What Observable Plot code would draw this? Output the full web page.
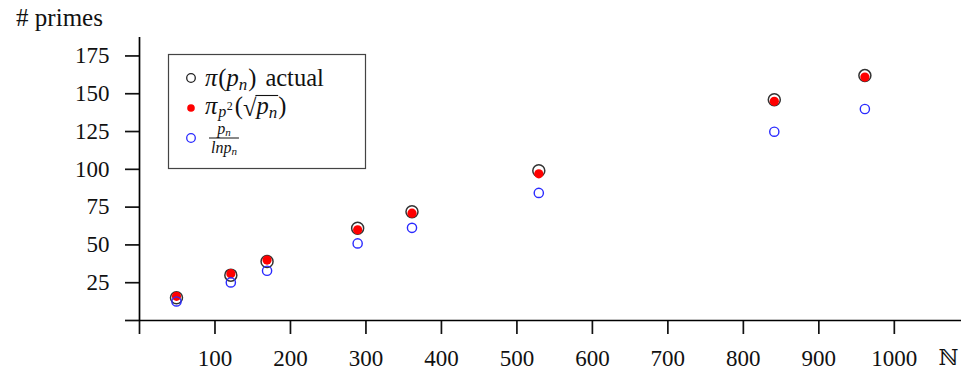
<!DOCTYPE html>
<html>
<head>
<meta charset="utf-8">
<script src="https://cdn.jsdelivr.net/npm/d3@7"></script>
<script src="https://cdn.jsdelivr.net/npm/@observablehq/plot@0.6"></script>
<style>
  body { margin: 0; background: #fff; }
  #wrap { position: relative; width: 961px; height: 372px; }
  #legend { position: absolute; left: 0; top: 0; pointer-events: none; font-family: "Liberation Serif"; }
</style>
</head>
<body>
<div id="wrap"></div>
<script>
// data: x = squares of primes, y = prime counts
const xs = [49, 121, 169, 289, 361, 529, 841, 961];
const actual = [15, 30, 39, 61, 72, 99, 146, 162];
const estimate = [16, 31, 40, 60, 71, 97, 145, 161];
const ratio = [12.6, 25.2, 32.9, 51.0, 61.3, 84.4, 124.9, 139.9];
const xTicks = [0, 100, 200, 300, 400, 500, 600, 700, 800, 900, 1000];
const yTicks = [0, 25, 50, 75, 100, 125, 150, 175];
const yLabel = "# primes";
const xLabel = "ℕ";

const chart = Plot.plot({
  width: 961,
  height: 372,
  marginLeft: 139,
  marginRight: 0,
  marginTop: 37,
  marginBottom: 52,
  style: { fontFamily: "Liberation Serif", fontSize: "23px", color: "#111", background: "#fff" },
  x: { domain: [0, 1089] },
  y: { domain: [0, 187.2] },
  marks: [
    Plot.axisX({ ticks: xTicks, tickSize: 14, tickPadding: 15, strokeWidth: 1.7, fontFamily: "Liberation Serif", tickFormat: d => d === 0 ? "" : String(d), label: null }),
    Plot.axisY({ ticks: yTicks, tickSize: 14, tickPadding: 16, strokeWidth: 1.7, fontFamily: "Liberation Serif", tickFormat: d => d === 0 ? "" : String(d), label: null }),
    Plot.ruleY([0], { stroke: "#000", strokeWidth: 1.7 }),
    Plot.ruleX([0], { stroke: "#000", strokeWidth: 1.7 }),
    Plot.dot(xs, { x: xs, y: actual, r: 6, stroke: "#333", strokeWidth: 1.5, fill: "none" }),
    Plot.dot(xs, { x: xs, y: estimate, r: 4.6, fill: "#ff0000", stroke: "none" }),
    Plot.dot(xs, { x: xs, y: ratio, r: 4.6, stroke: "#2a2aff", strokeWidth: 1.4, fill: "none" }),
    Plot.text([yLabel], { frameAnchor: "top-left", dx: -80, dy: -19.5, textAnchor: "middle", lineAnchor: "middle", fontSize: 25, fontFamily: "Liberation Serif", fill: "#111" }),
    Plot.text([xLabel], { frameAnchor: "bottom-right", dx: -13, dy: 37, textAnchor: "middle", lineAnchor: "middle", fontSize: 22, fontFamily: "DejaVu Serif", fill: "#111" })
  ]
});

const wrap = document.getElementById("wrap");
wrap.appendChild(chart);

// legend overlay
const NS = "http://www.w3.org/2000/svg";
const lg = document.createElementNS(NS, "svg");
lg.setAttribute("id", "legend");
lg.setAttribute("width", 961);
lg.setAttribute("height", 372);
wrap.appendChild(lg);

function el(tag, attrs) {
  const e = document.createElementNS(NS, tag);
  for (const k in attrs) e.setAttribute(k, attrs[k]);
  lg.appendChild(e);
  return e;
}
function txt(s, x, y, size, italic) {
  const t = el("text", { x, y, "font-size": size, fill: "#111", "font-style": italic ? "italic" : "normal" });
  t.textContent = s;
  return t.getComputedTextLength();
}

el("rect", { x: 168.5, y: 54.5, width: 197, height: 114, fill: "#fff", stroke: "#444", "stroke-width": 1.2 });

const FS = 24.5, SS = 17;
// row 1
el("circle", { cx: 191, cy: 78, r: 4.3, fill: "none", stroke: "#222", "stroke-width": 1.3 });
{
  let x = 205, b = 86;
  x += txt("π", x, b, FS, true) + 1;
  x += txt("(", x, b, FS, false);
  x += txt("p", x, b, FS, true);
  x += txt("n", x, b + 4, SS, true) + 1;
  x += txt(")", x, b, FS, false);
  txt("actual", x + 9, b, FS, false);
}
// row 2
el("circle", { cx: 191, cy: 108, r: 3.8, fill: "#ff0000" });
{
  let x = 205, b = 114;
  x += txt("π", x, b, FS, true) + 1;
  x += txt("p", x, b + 3, 16, true) + 0.5;
  x += txt("2", x, b - 4, 12, false) + 2;
  x += txt("(", x, b, FS, false);
  x += txt("√", x, b + 2, FS, false);
  const ox = x;
  x += txt("p", x, b, FS, true);
  x += txt("n", x, b + 4, SS, true) + 1;
  el("line", { x1: ox - 1, x2: x, y1: b - 18.5, y2: b - 18.5, stroke: "#111", "stroke-width": 1.1 });
  txt(")", x, b, FS, false);
}
// row 3
el("circle", { cx: 191, cy: 138, r: 4.3, fill: "none", stroke: "#2a2aff", "stroke-width": 1.3 });
{
  const fx = 209, b = 134;
  let w1 = 0;
  w1 += txt("p", 0, -100, 16, true);
  w1 += txt("n", 0, -100, 11, true);
  let w2 = 0;
  w2 += txt("lnp", 0, -100, 16, true);
  w2 += txt("n", 0, -100, 11, true);
  Array.from(lg.querySelectorAll("text")).filter(t => t.getAttribute("y") == -100).forEach(t => t.remove());
  const W = Math.max(w1, w2) + 4;
  let x = fx + (W - w1) / 2;
  x += txt("p", x, b, 16, true);
  txt("n", x, b + 2, 11, true);
  el("line", { x1: fx, x2: fx + W, y1: 138, y2: 138, stroke: "#111", "stroke-width": 1 });
  x = fx + (W - w2) / 2;
  x += txt("lnp", x, 153, 16, true);
  txt("n", x, 155, 11, true);
}
</script>
</body>
</html>
